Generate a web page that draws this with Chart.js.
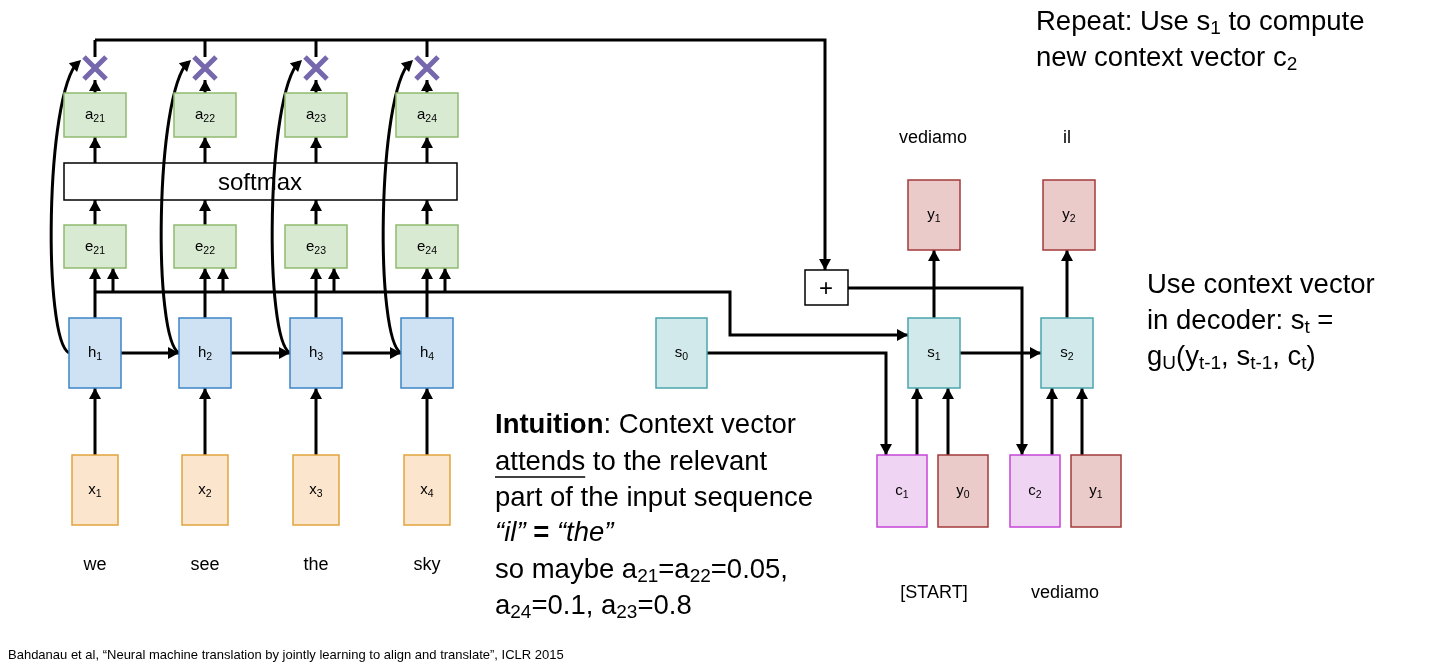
<!DOCTYPE html><html><head><meta charset="utf-8">
<script src="https://cdn.jsdelivr.net/npm/chart.js@4/dist/chart.umd.min.js"></script>
<style>html,body{margin:0;background:#fff}#w{width:1429px;height:664px}</style></head><body>
<div id="w"><canvas id="c"></canvas></div>
<script>
const encX=[95,205,316,427];
const inputWords=["we","see","the","sky"];
const hLabels=["h1","h2","h3","h4"],xLabels=["x1","x2","x3","x4"],eLabels=["e21","e22","e23","e24"],aLabels=["a21","a22","a23","a24"];
const decBoxes=[ // [x1,y1,x2,y2,label,kind]
 [656,318,707,388,"s0","s"],[908,318,960,388,"s1","s"],[1041,318,1093,388,"s2","s"],
 [908,180,960,250,"y1","y"],[1043,180,1095,250,"y2","y"],
 [877,455,927,527,"c1","c"],[938,455,988,527,"y0","y"],[1010,455,1060,527,"c2","c"],[1071,455,1121,527,"y1","y"]];
const wordLabels=[[933,138,"vediamo"],[1067,138,"il"],[934,593,"[START]"],[1065,593,"vediamo"],[95,565,"we"],[205,565,"see"],[316,565,"the"],[427,565,"sky"]];
const kinds={h:["#cfe2f3","#3d85c6"],x:["#fce5cd","#e1a43c"],e:["#d9ead3","#8fba6e"],s:["#d2e9eb","#4aa5ad"],y:["#ebcaca","#a33a3a"],c:["#efd4f3","#c546d6"]};
const arrows=[
 [[835,288],[848,288],[1022,288],[1022,455]],
 [[707,353],[886,353],[886,455]],
 [[960,353],[1041,353]],[[934,318],[934,250]],[[1067,318],[1067,250]],
 [[917,455],[917,388]],[[948,455],[948,388]],[[1052,455],[1052,388]],[[1082,455],[1082,388]],
 [[95,40],[825,40],[825,270]],
 [[95,292],[730,292],[730,335],[908,335]]];
const draw={id:'d',afterDraw(ch){
 const g=ch.ctx,X=v=>ch.scales.x.getPixelForValue(v),Y=v=>ch.scales.y.getPixelForValue(v);
 g.save();g.lineWidth=3;g.strokeStyle="#000";g.fillStyle="#000";
 function head(x1,y1,x2,y2){const a=Math.atan2(y2-y1,x2-x1),L=11,W=6;g.beginPath();g.moveTo(x2,y2);g.lineTo(x2-L*Math.cos(a)+W*Math.sin(a),y2-L*Math.sin(a)-W*Math.cos(a));g.lineTo(x2-L*Math.cos(a)-W*Math.sin(a),y2-L*Math.sin(a)+W*Math.cos(a));g.closePath();g.fill();}
 function arrow(pts,noHead){g.beginPath();pts.forEach((p,i)=>{const a=X(p[0]),b=Y(p[1]);i?g.lineTo(a,b):g.moveTo(a,b)});
  const n=pts.length,a=[X(pts[n-2][0]),Y(pts[n-2][1])],b=[X(pts[n-1][0]),Y(pts[n-1][1])];
  if(!noHead){const d=Math.hypot(b[0]-a[0],b[1]-a[1]);g.lineTo(b[0]-(b[0]-a[0])/d*9,b[1]-(b[1]-a[1])/d*9);}else g.lineTo(b[0],b[1]);
  g.stroke();if(!noHead)head(a[0],a[1],b[0],b[1]);}
 function lab(cx,cy,t,size){const m=t.slice(0,1),s=t.slice(1);g.fillStyle="#000";g.textBaseline="middle";g.textAlign="left";
  const sw=size*0.7;g.font=size+"px Liberation Sans";const w1=g.measureText(m).width;g.font=sw+"px Liberation Sans";const w2=g.measureText(s).width;
  const x0=cx-(w1+w2)/2;g.font=size+"px Liberation Sans";g.fillText(m,x0,cy);g.font=sw+"px Liberation Sans";g.fillText(s,x0+w1,cy+size*0.3);}
 function box(x1,y1,x2,y2,k,t){const c=kinds[k];g.fillStyle=c[0];g.strokeStyle=c[1];g.lineWidth=1.5;const a=X(x1),b=Y(y1),w=X(x2)-a,h=Y(y2)-b;g.fillRect(a,b,w,h);g.strokeRect(a,b,w,h);lab(a+w/2,b+h/2,t,15);g.lineWidth=3;g.strokeStyle="#000";g.fillStyle="#000";}
 encX.forEach((x,i)=>{arrow([[x,455],[x,388]]);arrow([[x,318],[x,268]]);arrow([[x+18,292],[x+18,268]]);
  arrow([[x,225],[x,200]]);arrow([[x,163],[x,137]]);arrow([[x,93],[x,80]]);arrow([[x,57],[x,40]],true);
  if(i<3)arrow([[x+26,353],[encX[i+1]-26,353]]);
  g.beginPath();g.moveTo(X(x-26),Y(353));g.bezierCurveTo(X(x-52),Y(340),X(x-50),Y(95),X(x-17),Y(62));g.stroke();head(X(x-30),Y(75),X(x-14),Y(60));});
 arrows.forEach(p=>arrow(p));
 g.strokeStyle="#000";g.lineWidth=1.5;g.strokeRect(X(64),Y(163),X(457)-X(64),Y(200)-Y(163));
 g.fillStyle="#fff";g.fillRect(X(805),Y(270),43,35);g.strokeRect(X(805),Y(270),43,35);
 g.fillStyle="#000";g.font="24px Liberation Sans";g.textAlign="center";g.textBaseline="middle";g.fillText("+",X(826),Y(289));
 g.fillText("softmax",X(260),Y(183));
 encX.forEach((x,i)=>{box(x-26,318,x+26,388,"h",hLabels[i]);box(x-23,455,x+23,525,"x",xLabels[i]);box(x-31,225,x+31,268,"e",eLabels[i]);box(x-31,93,x+31,137,"e",aLabels[i]);
  g.strokeStyle="#7767ad";g.lineWidth=5;g.beginPath();g.moveTo(X(x-11),Y(57));g.lineTo(X(x+11),Y(79));g.moveTo(X(x+11),Y(57));g.lineTo(X(x-11),Y(79));g.stroke();g.lineWidth=3;g.strokeStyle="#000";});
 decBoxes.forEach(b=>box(b[0],b[1],b[2],b[3],b[5],b[4]));
 g.fillStyle="#000";g.textAlign="center";g.font="18px Liberation Sans";wordLabels.forEach(w=>g.fillText(w[2],X(w[0]),Y(w[1])));
 g.textAlign="left";
 function rich(x,y,parts){let cx=X(x);parts.forEach(p=>{g.font=(p[1]||"")+" "+(p[2]||27.5)+"px Liberation Sans";g.fillText(p[0],cx,Y(y)+(p[3]||0));cx+=g.measureText(p[0]).width;});}
 rich(1036,22,[["Repeat: Use s"],["1","",19,7],[" to compute"]]);
 rich(1036,58,[["new context vector c"],["2","",19,7]]);
 rich(1147,285,[["Use context vector"]]);rich(1147,321,[["in decoder: s"],["t","",19,7],[" ="]]);
 rich(1147,357,[["g"],["U","",19,7],["(y"],["t-1","",19,7],[", s"],["t-1","",19,7],[", c"],["t","",19,7],[")"]]);
 rich(495,425,[["Intuition","bold"],[": Context vector"]]);
 rich(495,462,[["attends"],[" to the relevant"]]);g.font="27.5px Liberation Sans";g.lineWidth=1.5;g.beginPath();g.moveTo(X(495),Y(477));g.lineTo(X(495)+g.measureText("attends").width,Y(477));g.stroke();
 rich(495,498,[["part of the input sequence"]]);
 rich(495,533,[["\u201cil\u201d ","italic"],["= ","bold"],["\u201cthe\u201d","italic"]]);
 rich(495,570,[["so maybe a"],["21","",19,7],["=a"],["22","",19,7],["=0.05,"]]);
 rich(495,606,[["a"],["24","",19,7],["=0.1, a"],["23","",19,7],["=0.8"]]);
 g.font="13px Liberation Sans";g.fillText("Bahdanau et al, \u201cNeural machine translation by jointly learning to align and translate\u201d, ICLR 2015",X(8),Y(655));
 g.restore();}};
new Chart(document.getElementById('c'),{type:'scatter',data:{datasets:[{data:[]}]},plugins:[draw],
 options:{responsive:true,maintainAspectRatio:false,animation:false,layout:{padding:0},plugins:{legend:{display:false},tooltip:{enabled:false}},
 scales:{x:{type:'linear',min:0,max:1429,display:false},y:{type:'linear',min:0,max:664,reverse:true,display:false}}}});
</script></body></html>
